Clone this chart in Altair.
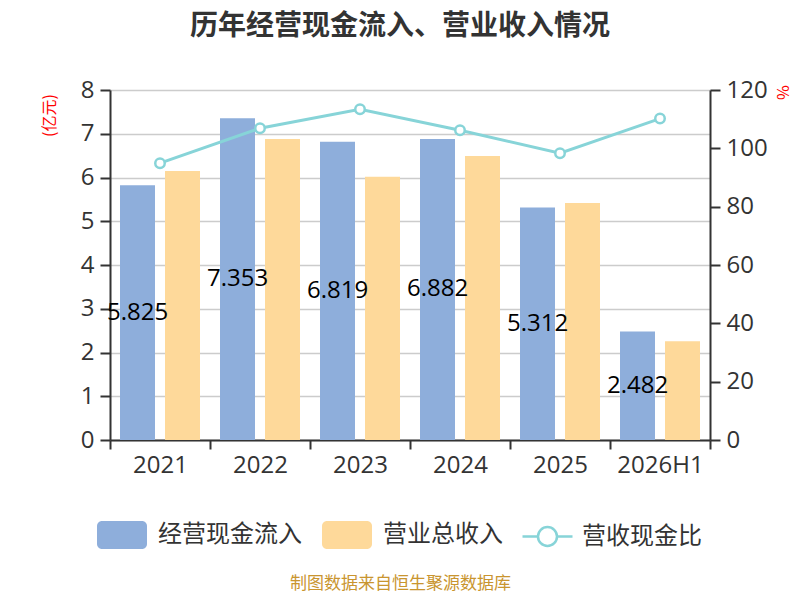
import altair as alt
import pandas as pd

years = ["2021", "2022", "2023", "2024", "2025", "2026H1"]
cash_in = [5.825, 7.353, 6.819, 6.882, 5.312, 2.482]
revenue = [6.15, 6.88, 6.02, 6.49, 5.42, 2.26]
ratio = [94.9, 106.9, 113.4, 106.2, 98.3, 110.2]

S1, S2, S3 = "经营现金流入", "营业总收入", "营收现金比"
BLUE, ORANGE, TEAL = "#8EAEDB", "#FED99A", "#87D4D8"
FONT = "Open Sans, Noto Sans CJK SC"
CJK = "Noto Sans CJK SC"

bar_df = pd.DataFrame({
    "year": years * 2,
    "series": [S1] * len(years) + [S2] * len(years),
    "value": cash_in + revenue,
})
line_df = pd.DataFrame({"year": years, "series": [S3] * len(years), "ratio": ratio})

RECT_PATH = ("M-0.8,-0.56 H0.8 A0.2,0.2 0 0 1 1,-0.36 V0.36 A0.2,0.2 0 0 1 0.8,0.56 "
             "H-0.8 A0.2,0.2 0 0 1 -1,0.36 V-0.36 A0.2,0.2 0 0 1 -0.8,-0.56 Z")
LINE_PATH = ("M-1,0 H-0.38 M0.38,0 H1 M-0.38,0 A0.38,0.38 0 1 1 0.38,0 "
             "A0.38,0.38 0 1 1 -0.38,0 Z")

x_enc = alt.X(
    "year:N", sort=years,
    scale=alt.Scale(paddingInner=0, paddingOuter=0),
    axis=alt.Axis(
        title="制图数据来自恒生聚源数据库", titleFont=CJK, titleFontSize=17,
        titleFontWeight="normal", titleColor="#C9952F",
        titleX=290, titleY=143, titleAlign="center", titleBaseline="middle",
        labelFont=FONT, labelFontSize=24, labelColor="#333333", labelPadding=4,
        labelAngle=0, tickBand="extent", tickSize=9, tickWidth=2, tickColor="#333333",
        domainColor="#333333", domainWidth=2, grid=False,
    ),
)

xoff = alt.XOffset("series:N", sort=[S1, S2],
                   scale=alt.Scale(domain=[S1, S2], paddingInner=0.2222, paddingOuter=0.2222))

left_scale = alt.Scale(domain=[0, 8], nice=False)
left_axis = alt.Axis(
    values=list(range(9)), title="(亿元)", titleFont=CJK, titleFontSize=16,
    titleFontWeight="normal", titleColor="#FF0000", titleAngle=270,
    titleX=-61, titleY=25, titleAlign="center", titleBaseline="middle",
    labelFont=FONT, labelFontSize=24, labelColor="#333333", labelPadding=6,
    tickSize=10, tickWidth=2, tickColor="#333333",
    domainColor="#333333", domainWidth=2,
    grid=True, gridColor="#CCCCCC", gridWidth=1.5,
)

bars = alt.Chart(bar_df).mark_bar().encode(
    x=x_enc,
    xOffset=xoff,
    y=alt.Y("value:Q", scale=left_scale, axis=left_axis),
    color=alt.Color("series:N", sort=[S1, S2],
                    scale=alt.Scale(domain=[S1, S2], range=[BLUE, ORANGE]),
                    legend=alt.Legend(
                        title=None, orient="none", legendX=-13, legendY=420,
                        direction="horizontal", symbolType=RECT_PATH, symbolSize=2500,
                        symbolStrokeWidth=0, symbolOpacity=1, labelFont=CJK,
                        labelFontSize=24, labelColor="#333333", labelOffset=11,
                        columnPadding=20, padding=0,
                    )),
)

labels = alt.Chart(bar_df).transform_filter(
    alt.datum.series == S1
).transform_calculate(
    mid="datum.value / 2"
).mark_text(font=FONT, fontSize=24, color="#000000", align="center", baseline="middle").encode(
    x=x_enc,
    xOffset=xoff,
    y=alt.Y("mid:Q", scale=left_scale, axis=left_axis),
    text=alt.Text("value:Q", format=".3f"),
)

left = alt.layer(bars, labels)

line = alt.Chart(line_df).mark_line(
    strokeWidth=3,
    point=alt.OverlayMarkDef(filled=False, fill="white", size=90, strokeWidth=2.5, opacity=1),
).encode(
    x=x_enc,
    y=alt.Y("ratio:Q", scale=alt.Scale(domain=[0, 120], nice=False), axis=alt.Axis(
        orient="right", values=[0, 20, 40, 60, 80, 100, 120], title="%",
        titleFont=CJK, titleFontSize=16, titleFontWeight="normal", titleColor="#FF0000",
        titleAngle=90, titleX=71, titleY=2, titleAlign="center", titleBaseline="middle",
        labelFont=FONT, labelFontSize=24, labelColor="#333333", labelPadding=6,
        tickSize=10, tickWidth=2, tickColor="#333333",
        domainColor="#333333", domainWidth=2, grid=False,
    )),
    color=alt.Color("series:N", scale=alt.Scale(domain=[S3], range=[TEAL]),
                    legend=alt.Legend(
                        title=None, orient="none", legendX=411, legendY=420,
                        symbolType=LINE_PATH, symbolSize=2500, symbolStrokeWidth=2.5,
                        symbolFillColor="white", labelFont=CJK, labelFontSize=24,
                        labelColor="#333333", labelOffset=8, padding=0,
                    )),
)

chart = alt.layer(left, line).resolve_scale(
    y="independent", color="independent"
).properties(
    width=600, height=350,
    padding={"left": 102, "top": 82, "right": 82, "bottom": 152},
    autosize=alt.AutoSizeParams(type="none"),
    title=alt.TitleParams(
        "历年经营现金流入、营业收入情况", font=CJK, fontSize=28, fontWeight="bold",
        color="#333333", anchor="middle", frame="group", dx=-10, offset=37,
    ),
).configure_view(stroke=None)

chart.save("out.html", embed_options={"renderer": "svg", "actions": False})
